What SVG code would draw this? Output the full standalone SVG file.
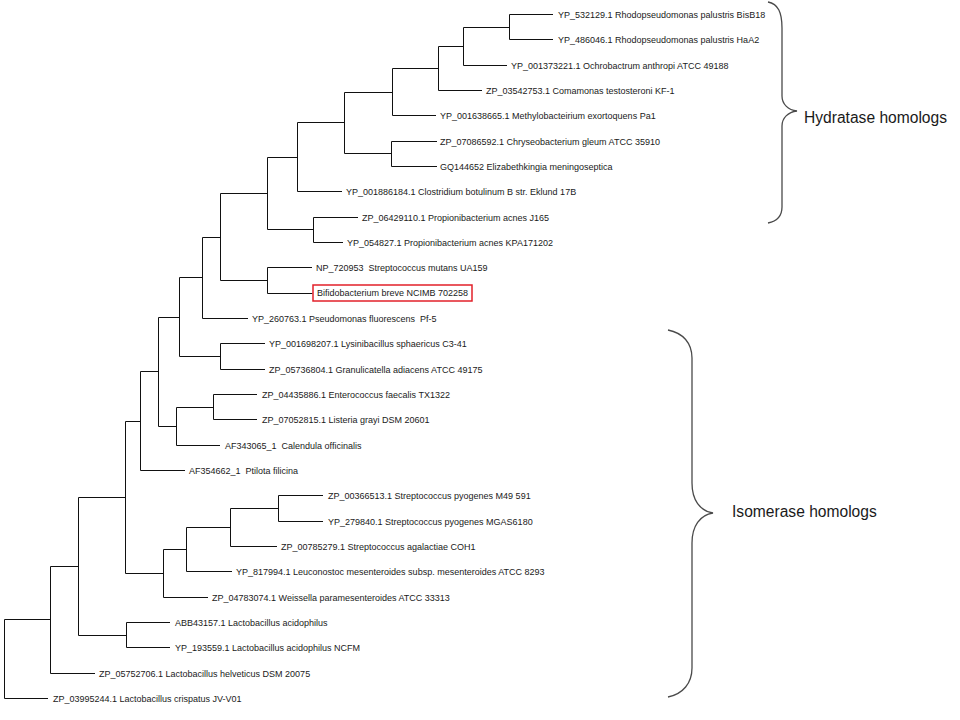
<svg xmlns="http://www.w3.org/2000/svg" width="960" height="720" viewBox="0 0 960 720">
<style>
.lf{font-family:"Liberation Sans",Arial,sans-serif;font-size:9px;fill:#1a1a1a;white-space:pre}
.big{font-family:"Liberation Sans",Arial,sans-serif;font-size:15.6px;fill:#1a1a1a}
.br{fill:none;stroke:#4a4a4a;stroke-width:1.3}
.edge{fill:none;stroke:#111;stroke-width:1}
</style>
<rect width="960" height="720" fill="#fff"/>
<g id="connectors" class="edge">
<path d="M553,14.5 H509.5 V39.5 H553"/>
<path d="M509.5,27.5 H463.5 V65.5 H507"/>
<path d="M463.5,46.5 H438.5 V90.5 H482"/>
<path d="M438.5,68.5 H392.5 V115.5 H436"/>
<path d="M437,141.5 H391.5 V166.5 H437"/>
<path d="M392.5,92.5 H344.5 V153.5 H391.5"/>
<path d="M344.5,122.5 H297.5 V191.5 H342"/>
<path d="M358,217.5 H313.5 V242.5 H343"/>
<path d="M297.5,157.5 H267.5 V229.5 H313.5"/>
<path d="M312,267.5 H267.5 V293.5 H312.5"/>
<path d="M267.5,193.5 H220.5 V280.5 H267.5"/>
<path d="M220.5,237.5 H202.5 V318.5 H248"/>
<path d="M265,343.5 H220.5 V369.5 H265"/>
<path d="M202.5,277.5 H179.5 V356.5 H220.5"/>
<path d="M257,394.5 H213.5 V419.5 H257"/>
<path d="M213.5,407.5 H176.5 V445.5 H220"/>
<path d="M179.5,317.5 H158.5 V426.5 H176.5"/>
<path d="M158.5,371.5 H140.5 V470.5 H185"/>
<path d="M323,495.5 H278.5 V521.5 H323"/>
<path d="M278.5,508.5 H230.5 V546.5 H277"/>
<path d="M230.5,527.5 H186.5 V571.5 H232"/>
<path d="M186.5,549.5 H163.5 V597.5 H208"/>
<path d="M140.5,421.5 H125.5 V573.5 H163.5"/>
<path d="M170,622.5 H126.5 V647.5 H170"/>
<path d="M125.5,497.5 H78.5 V635.5 H126.5"/>
<path d="M78.5,566.5 H50.5 V673.5 H95"/>
<path d="M50.5,619.5 H4.5 V698.5 H48"/>
</g>
<g id="leaf1"><text class="lf" x="558" y="17.5">YP_532129.1 Rhodopseudomonas palustris BisB18</text></g>
<g id="leaf2"><text class="lf" x="558" y="42.5">YP_486046.1 Rhodopseudomonas palustris HaA2</text></g>
<g id="leaf3"><text class="lf" x="511" y="68.5">YP_001373221.1 Ochrobactrum anthropi ATCC 49188</text></g>
<g id="leaf4"><text class="lf" x="486" y="93.5">ZP_03542753.1 Comamonas testosteroni KF-1</text></g>
<g id="leaf5"><text class="lf" x="440" y="118.5">YP_001638665.1 Methylobacteirium exortoquens Pa1</text></g>
<g id="leaf6"><text class="lf" x="440" y="144.5">ZP_07086592.1 Chryseobacterium gleum ATCC 35910</text></g>
<g id="leaf7"><text class="lf" x="440" y="169.5">GQ144652 Elizabethkingia meningoseptica</text></g>
<g id="leaf8"><text class="lf" x="346" y="194.5">YP_001886184.1 Clostridium botulinum B str. Eklund 17B</text></g>
<g id="leaf9"><text class="lf" x="362" y="220.5">ZP_06429110.1 Propionibacterium acnes J165</text></g>
<g id="leaf10"><text class="lf" x="347" y="245.5">YP_054827.1 Propionibacterium acnes KPA171202</text></g>
<g id="leaf11"><text class="lf" x="316" y="270.5">NP_720953  Streptococcus mutans UA159</text></g>
<g id="leaf12"><rect x="313" y="285" width="159" height="16" fill="#fff" stroke="#e2202a" stroke-width="1.5"/><text class="lf" x="317" y="296">Bifidobacterium breve NCIMB 702258</text></g>
<g id="leaf13"><text class="lf" x="252" y="321.5">YP_260763.1 Pseudomonas fluorescens  Pf-5</text></g>
<g id="leaf14"><text class="lf" x="269" y="346.5">YP_001698207.1 Lysinibacillus sphaericus C3-41</text></g>
<g id="leaf15"><text class="lf" x="269" y="372.5">ZP_05736804.1 Granulicatella adiacens ATCC 49175</text></g>
<g id="leaf16"><text class="lf" x="262" y="397.5">ZP_04435886.1 Enterococcus faecalis TX1322</text></g>
<g id="leaf17"><text class="lf" x="262" y="422.5">ZP_07052815.1 Listeria grayi DSM 20601</text></g>
<g id="leaf18"><text class="lf" x="225" y="448.5">AF343065_1  Calendula officinalis</text></g>
<g id="leaf19"><text class="lf" x="189" y="473.5">AF354662_1  Ptilota filicina</text></g>
<g id="leaf20"><text class="lf" x="328" y="498.5">ZP_00366513.1 Streptococcus pyogenes M49 591</text></g>
<g id="leaf21"><text class="lf" x="328" y="524.5">YP_279840.1 Streptococcus pyogenes MGAS6180</text></g>
<g id="leaf22"><text class="lf" x="281" y="549.5">ZP_00785279.1 Streptococcus agalactiae COH1</text></g>
<g id="leaf23"><text class="lf" x="236" y="574.5">YP_817994.1 Leuconostoc mesenteroides subsp. mesenteroides ATCC 8293</text></g>
<g id="leaf24"><text class="lf" x="212" y="600.5">ZP_04783074.1 Weissella paramesenteroides ATCC 33313</text></g>
<g id="leaf25"><text class="lf" x="175" y="625.5">ABB43157.1 Lactobacillus acidophilus</text></g>
<g id="leaf26"><text class="lf" x="175" y="650.5">YP_193559.1 Lactobacillus acidophilus NCFM</text></g>
<g id="leaf27"><text class="lf" x="99" y="676.5">ZP_05752706.1 Lactobacillus helveticus DSM 20075</text></g>
<g id="leaf28"><text class="lf" x="53" y="701.5">ZP_03995244.1 Lactobacillus crispatus JV-V01</text></g>
<g id="hydratase">
<path class="br" d="M768,2 C778,4 782,12 782,28 V96 C782,104 788,110 797,111 C788,112 782,118 782,126 V207 C782,215 778,221 768,223"/>
<text class="big" x="804" y="123">Hydratase homologs</text>
</g>
<g id="isomerase">
<path class="br" d="M668,330 C683,333 692,343 692,358 V483 C692,500 700,511 713,513 C700,515 692,526 692,543 V668 C692,683 683,694 668,697"/>
<text class="big" x="732" y="517">Isomerase homologs</text>
</g>
</svg>
